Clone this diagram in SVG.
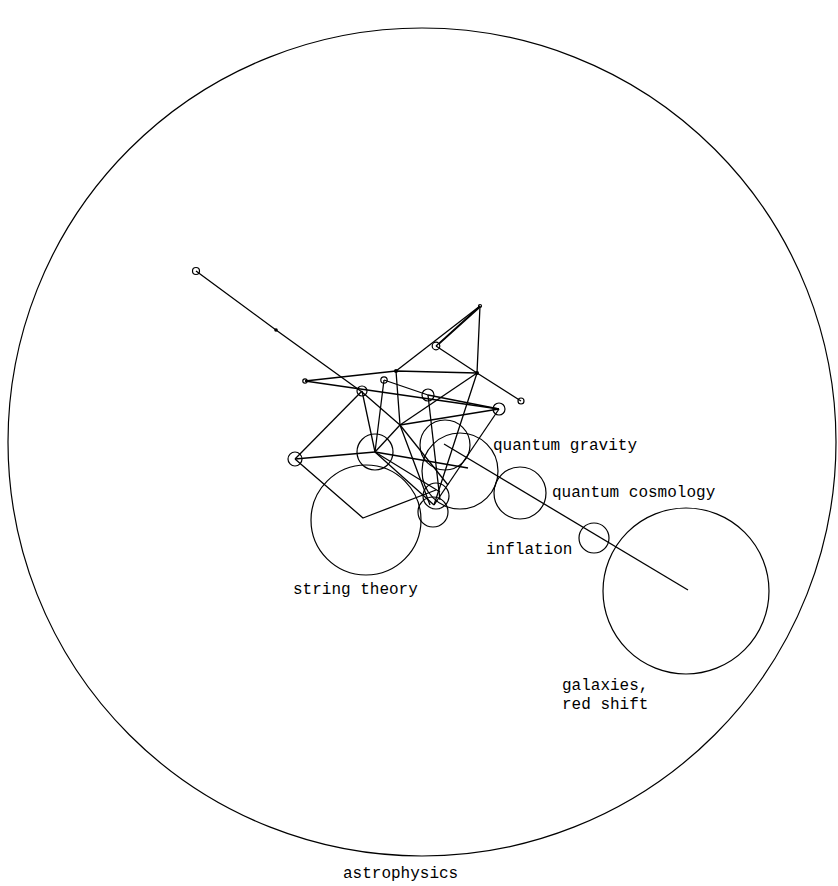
<svg xmlns="http://www.w3.org/2000/svg" width="838" height="886" viewBox="0 0 838 886">
<style>
.c{fill:none;stroke:#000;stroke-width:1.2}
.e{fill:none;stroke:#000;stroke-width:1.3;stroke-linejoin:round}
.d{fill:#000}
.t{font-family:"Liberation Mono","DejaVu Sans Mono",monospace;font-size:16px;fill:#000}
</style>
<rect width="838" height="886" fill="#fff"/>
<g id="astrophysics">
<circle class="c" cx="422" cy="442" r="414"/>
<text class="t" x="343" y="878">astrophysics</text>
</g>
<g id="connectors">
<polyline class="e" points="196,271 276,330 362,392 400,425"/>
<polyline class="e" points="305,381 396,371 477,373"/>
<line class="e" x1="396" y1="371" x2="480" y2="306"/>
<line class="e" x1="436" y1="346" x2="480" y2="306"/>
<line class="e" x1="439" y1="344" x2="479" y2="308"/>
<polyline class="e" points="436,346 477,373 521,401"/>
<polyline class="e" points="480,306 477,373 434,505"/>
<line class="e" x1="477" y1="373" x2="400" y2="425"/>
<polyline class="e" points="384,380 428,395 499,409"/>
<line class="e" x1="305" y1="381" x2="499" y2="409"/>
<line class="e" x1="400" y1="425" x2="499" y2="409"/>
<line class="e" x1="362" y1="391" x2="295" y2="459"/>
<line class="e" x1="295" y1="459" x2="375" y2="452"/>
<polyline class="e" points="295,459 363,518 436,490"/>
<line class="e" x1="384" y1="380" x2="375" y2="452"/>
<line class="e" x1="362" y1="391" x2="375" y2="452"/>
<polyline class="e" points="396,371 400,425 430,505"/>
<line class="e" x1="375" y1="452" x2="400" y2="425"/>
<line class="e" x1="375" y1="452" x2="434" y2="505"/>
<line class="e" x1="375" y1="452" x2="440" y2="492"/>
<line class="e" x1="375" y1="452" x2="468" y2="468"/>
<line class="e" x1="428" y1="395" x2="440" y2="500"/>
<line class="e" x1="499" y1="409" x2="434" y2="505"/>
<line class="e" x1="400" y1="425" x2="448" y2="485"/>
<line class="e" x1="444" y1="444" x2="688" y2="590"/>
</g>
<g id="nodes-small">
<circle class="c" cx="196" cy="271" r="3.5"/>
<circle class="d" cx="276" cy="330" r="1.8"/>
<circle class="c" cx="305" cy="381" r="2.2"/>
<circle class="c" cx="362" cy="391" r="5"/>
<circle class="c" cx="384" cy="380" r="3.2"/>
<circle class="d" cx="396" cy="371" r="2"/>
<circle class="c" cx="428" cy="395" r="6"/>
<circle class="c" cx="436" cy="346" r="3.8"/>
<circle class="c" cx="480" cy="306" r="1.5"/>
<circle class="d" cx="477" cy="373" r="2"/>
<circle class="c" cx="499" cy="409" r="6"/>
<circle class="c" cx="521" cy="401" r="3"/>
<circle class="c" cx="295" cy="459" r="7"/>
<circle class="c" cx="375" cy="452" r="18"/>
<circle class="c" cx="436" cy="496" r="13"/>
<circle class="c" cx="433" cy="512" r="15"/>
</g>
<g id="string-theory">
<circle class="c" cx="366" cy="520" r="55"/>
<text class="t" x="293" y="594">string theory</text>
</g>
<g id="quantum-gravity">
<circle class="c" cx="445" cy="445" r="25"/>
<circle class="c" cx="460" cy="471" r="38"/>
<text class="t" x="493" y="450">quantum gravity</text>
</g>
<g id="quantum-cosmology">
<circle class="c" cx="520" cy="493" r="26"/>
<text class="t" x="552" y="497">quantum cosmology</text>
</g>
<g id="inflation">
<circle class="c" cx="594" cy="538" r="15"/>
<text class="t" x="486" y="554">inflation</text>
</g>
<g id="galaxies">
<circle class="c" cx="686" cy="591" r="83"/>
<text class="t" x="562" y="690">galaxies,</text>
<text class="t" x="562" y="709">red shift</text>
</g>
</svg>
